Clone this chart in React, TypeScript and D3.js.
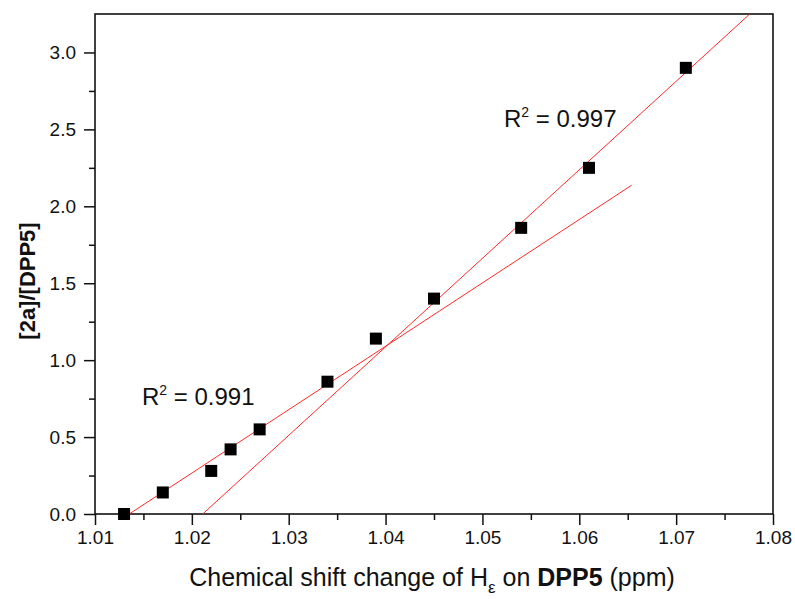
import React, { useEffect, useRef } from "react";
import { axisBottom, axisLeft, range, scaleLinear, select } from "d3";

const shift = [1.013, 1.017, 1.022, 1.024, 1.027, 1.034, 1.039, 1.045, 1.054, 1.061, 1.071];
const ratio = [0.0, 0.14, 0.28, 0.42, 0.55, 0.86, 1.14, 1.4, 1.86, 2.25, 2.9];

// linear fits: start x, end x, slope; y = slope * (x - x0)
const fitStart = [1.01354, 1.02112];
const fitEnd = [1.0654, 1.0776];
const fitSlope = [41.2, 57.6];
const fitLabel = ["0.991", "0.997"];
const labelPos = [
  [1.01485, 0.709],
  [1.05223, 2.516],
];

const xTicks = [1.01, 1.02, 1.03, 1.04, 1.05, 1.06, 1.07, 1.08];
const yTicks = [0, 0.5, 1.0, 1.5, 2.0, 2.5, 3.0];

const width = 795;
const height = 599;
const m = { left: 95, top: 14, right: 22, bottom: 85 };
const font = "Arial, 'Liberation Sans', sans-serif";

export default function App() {
  const ref = useRef<SVGSVGElement | null>(null);

  useEffect(() => {
    const svg = select(ref.current);
    svg.selectAll("*").remove();

    const x = scaleLinear().domain([1.01, 1.08]).range([m.left, width - m.right]);
    const y = scaleLinear().domain([0, 3.25]).range([height - m.bottom, m.top]);

    svg.append("rect").attr("width", width).attr("height", height).attr("fill", "#fff");

    // minor ticks
    const xg = svg
      .append("g")
      .attr("transform", `translate(0,${y(0)})`)
      .call(axisBottom(x).tickValues(range(1.015, 1.08, 0.01)).tickSize(6).tickFormat(() => ""));
    const yg = svg
      .append("g")
      .attr("transform", `translate(${x(1.01)},0)`)
      .call(axisLeft(y).tickValues([0.25, 0.75, 1.25, 1.75, 2.25, 2.75]).tickSize(6).tickFormat(() => ""));
    [xg, yg].forEach((g) => g.select(".domain").remove());

    const xa = svg
      .append("g")
      .attr("transform", `translate(0,${y(0)})`)
      .call(axisBottom(x).tickValues(xTicks).tickSize(11).tickPadding(6).tickFormat((d) => (+d).toFixed(2)));
    const ya = svg
      .append("g")
      .attr("transform", `translate(${x(1.01)},0)`)
      .call(axisLeft(y).tickValues(yTicks).tickSize(11).tickPadding(8).tickFormat((d) => (+d).toFixed(1)));
    [xa, ya].forEach((g) => {
      g.select(".domain").remove();
      g.selectAll("text").attr("font-family", font).attr("font-size", 19).attr("fill", "#111");
    });
    svg.selectAll(".tick line").attr("stroke", "#111").attr("stroke-width", 1.5);

    svg
      .append("rect")
      .attr("x", x(1.01))
      .attr("y", y(3.25))
      .attr("width", x(1.08) - x(1.01))
      .attr("height", y(0) - y(3.25))
      .attr("fill", "none")
      .attr("stroke", "#111")
      .attr("stroke-width", 1.6);

    // fit lines
    fitStart.forEach((x0, i) => {
      const x1 = fitEnd[i];
      svg
        .append("line")
        .attr("x1", x(x0))
        .attr("y1", y(0))
        .attr("x2", x(x1))
        .attr("y2", y(Math.min(3.25, fitSlope[i] * (x1 - x0))))
        .attr("stroke", "#ff2a2a")
        .attr("stroke-width", 1);
    });

    svg
      .append("g")
      .selectAll("rect")
      .data(shift)
      .join("rect")
      .attr("x", (d) => x(d) - 6)
      .attr("y", (d, i) => y(ratio[i]) - 6)
      .attr("width", 12)
      .attr("height", 12)
      .attr("fill", "#000");

    fitLabel.forEach((lab, i) => {
      const t = svg
        .append("text")
        .attr("x", x(labelPos[i][0]))
        .attr("y", y(labelPos[i][1]))
        .attr("font-family", font)
        .attr("font-size", 24)
        .attr("fill", "#111");
      t.append("tspan").text("R");
      t.append("tspan").attr("font-size", 14).attr("dy", -10).text("2");
      t.append("tspan").attr("dy", 10).text(` = ${lab}`);
    });

    const xt = svg
      .append("text")
      .attr("x", 432)
      .attr("y", 586)
      .attr("text-anchor", "middle")
      .attr("font-family", font)
      .attr("font-size", 25)
      .attr("fill", "#111");
    xt.append("tspan").text("Chemical shift change of H");
    xt.append("tspan").attr("font-size", 17).attr("dy", 7).text("ε");
    xt.append("tspan").attr("dy", -7).text(" on ");
    xt.append("tspan").attr("font-weight", "bold").text("DPP5");
    xt.append("tspan").text(" (ppm)");

    svg
      .append("text")
      .attr("transform", `translate(35,281) rotate(-90)`)
      .attr("text-anchor", "middle")
      .attr("font-family", font)
      .attr("font-size", 22)
      .attr("font-weight", "bold")
      .attr("fill", "#111")
      .text("[2a]/[DPP5]");
  }, []);

  return (
    <svg
      ref={ref}
      width={width}
      height={height}
      style={{ position: "absolute", left: 0, top: 0 }}
    />
  );
}
